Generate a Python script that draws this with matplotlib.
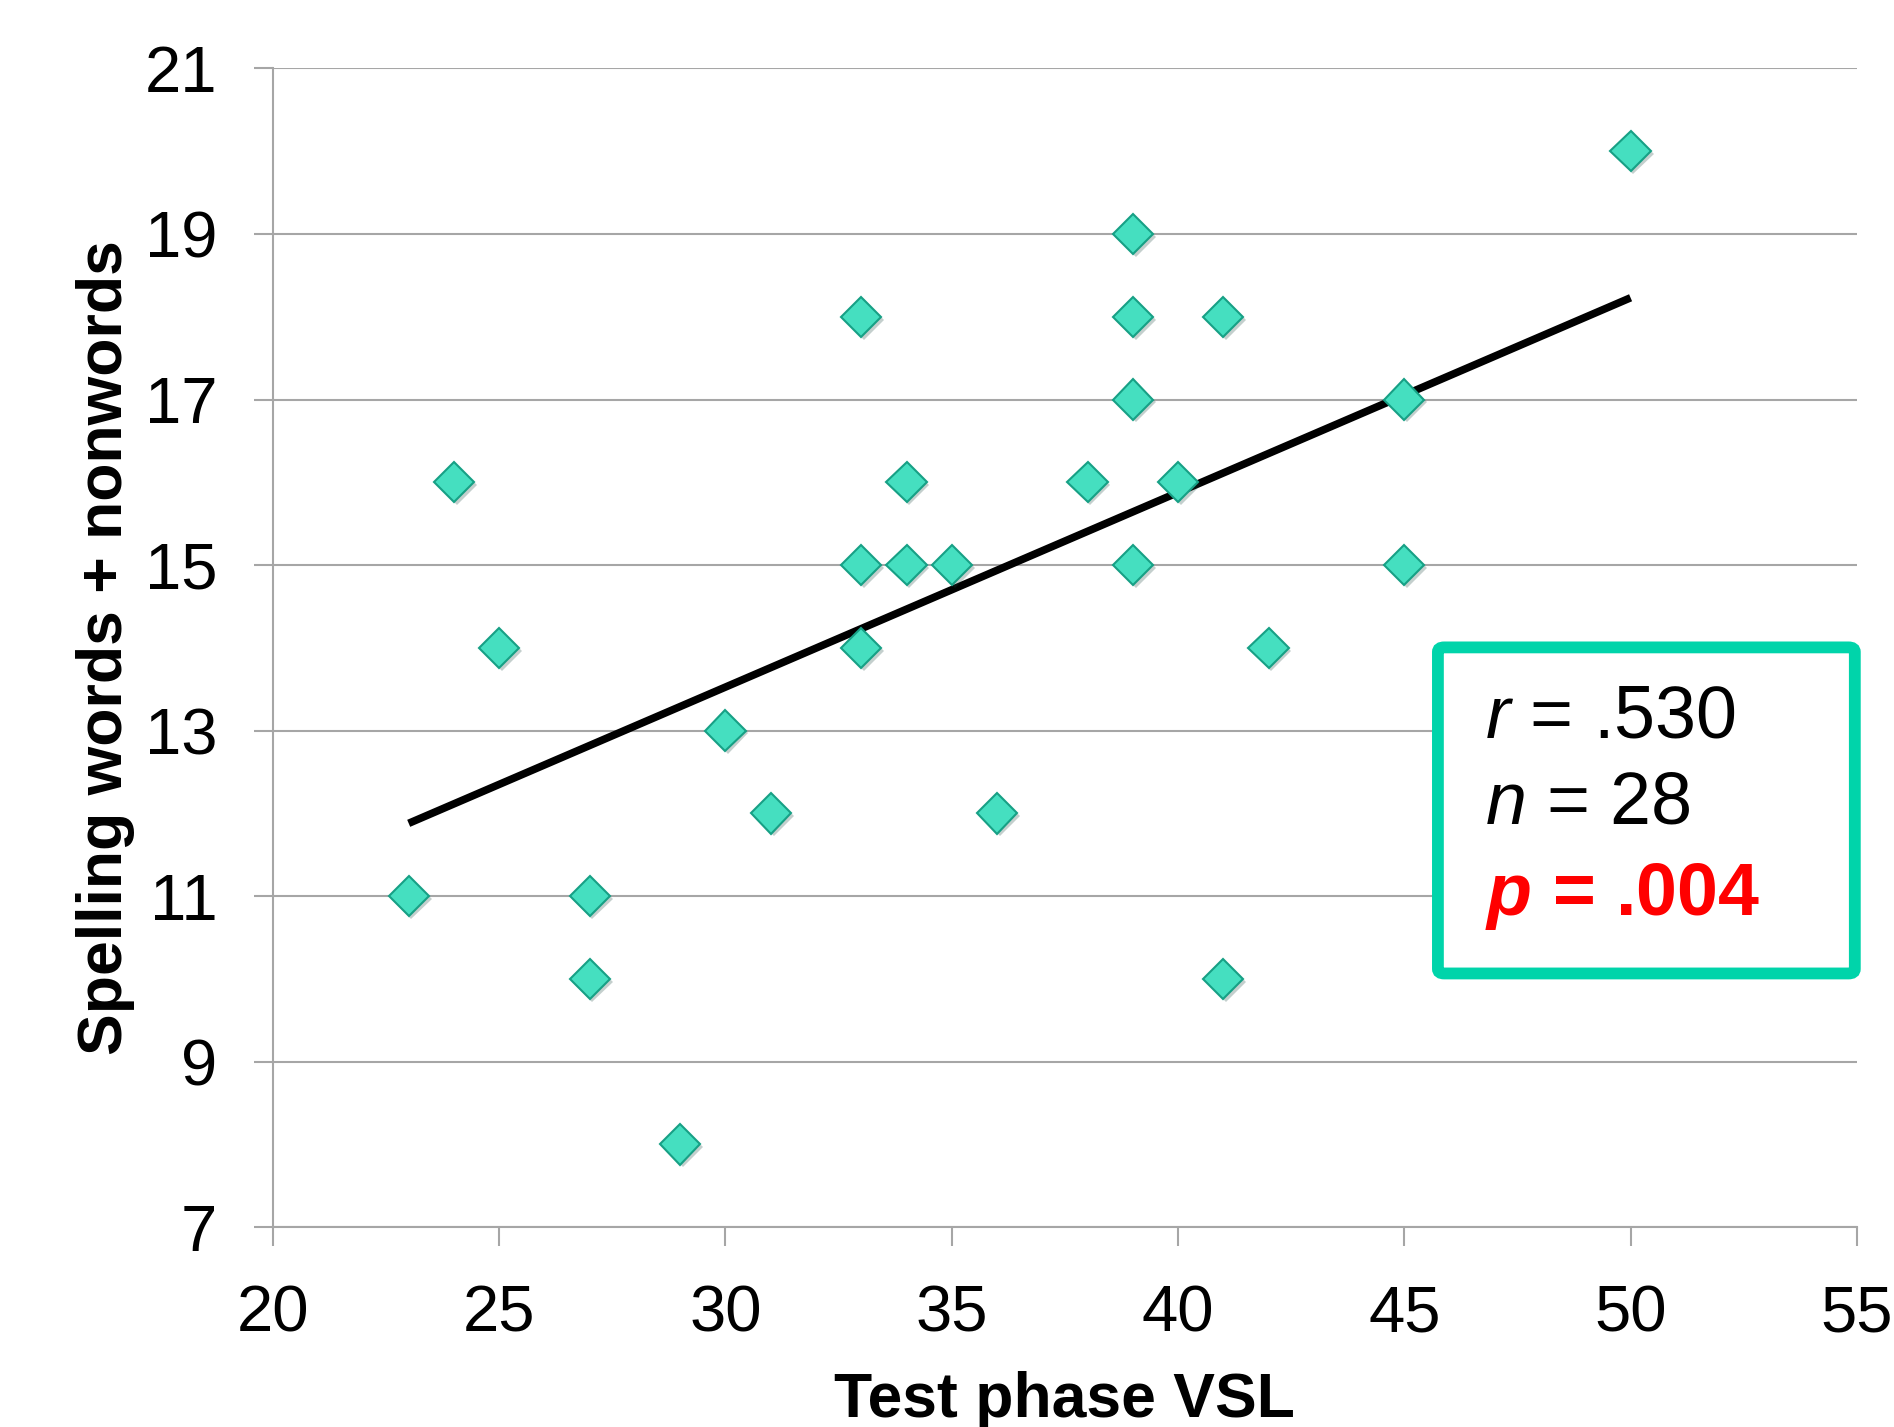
import matplotlib
matplotlib.use('Agg')
import matplotlib.pyplot as plt
import matplotlib.patheffects as pe
from matplotlib.patches import FancyBboxPatch

plt.rcParams['font.family'] = ['Liberation Sans', 'DejaVu Sans']
plt.rcParams['mathtext.fontset'] = 'custom'
plt.rcParams['mathtext.rm'] = 'Liberation Sans'
plt.rcParams['mathtext.it'] = 'Liberation Sans:italic'
plt.rcParams['mathtext.bf'] = 'Liberation Sans:bold'
plt.rcParams['mathtext.bfit'] = 'Liberation Sans:bold:italic'

# data
vsl = [23, 24, 25, 27, 27, 29, 30, 31, 33, 33, 33, 34, 34, 35, 36, 38,
       39, 39, 39, 39, 40, 41, 41, 42, 45, 45, 50]
spelling = [11, 16, 14, 11, 10, 8, 13, 12, 18, 15, 14, 16, 15, 15, 12, 16,
            19, 18, 17, 15, 16, 18, 10, 14, 17, 15, 20]
fit_x = [23, 50]
fit_y = [11.88, 18.23]
x_ticks = [20, 25, 30, 35, 40, 45, 50, 55]
y_ticks = [7, 9, 11, 13, 15, 17, 19, 21]

fig = plt.figure(figsize=(18.94, 14.27), dpi=100)
ax = fig.add_axes([0.1441, 0.140, 0.8363, 0.812])

grid_c = '#a6a6a6'
ax.set_xlim(20, 55)
ax.set_ylim(7, 21)
ax.set_xticks(x_ticks)
ax.set_yticks(y_ticks)
ax.yaxis.grid(True, color=grid_c, lw=1.5)
ax.set_axisbelow(True)
for s in ['top', 'right']:
    ax.spines[s].set_visible(False)
for s in ['left', 'bottom']:
    ax.spines[s].set_color(grid_c)
    ax.spines[s].set_linewidth(1.5)
ax.tick_params(axis='both', direction='out', color=grid_c, width=1.5,
               length=14, labelsize=47)
ax.tick_params(axis='x', pad=27)
ax.tick_params(axis='y', pad=26)

shadow = [pe.SimplePatchShadow(offset=(2, -2), alpha=0.25), pe.Normal()]

ax.plot(fit_x, fit_y, color='black', lw=5.5, solid_capstyle='butt',
        zorder=3, path_effects=shadow)
ax.plot(vsl, spelling, linestyle='none', marker='D', markersize=20.5,
        markerfacecolor='#45dfc0', markeredgecolor='#17a085',
        markeredgewidth=1.5, zorder=4, path_effects=shadow)

ax.set_xlabel('Test phase VSL', fontsize=45, fontweight='bold', labelpad=19)
ax.set_ylabel('Spelling words + nonwords', fontsize=45, fontweight='bold',
              labelpad=7)

box = FancyBboxPatch((0.7355, 0.219), 0.2632, 0.2814,
                     boxstyle='round,pad=0,rounding_size=0.004',
                     transform=ax.transAxes, facecolor='white',
                     edgecolor='#00d4aa', lw=8.5, zorder=5, clip_on=False)
ax.add_patch(box)
ax.text(0.765, 0.4228, r'$\mathit{r}$ = .530', transform=ax.transAxes,
        fontsize=53, va='baseline', ha='left', zorder=6)
ax.text(0.765, 0.3486, r'$\mathit{n}$ = 28', transform=ax.transAxes,
        fontsize=53, va='baseline', ha='left', zorder=6)
ax.text(0.765, 0.2692, r'$\mathbfit{p}$ = .004', transform=ax.transAxes,
        fontsize=53, va='baseline', ha='left', color='#ff0000',
        fontweight='bold', zorder=6)

fig.savefig('out.png', dpi=100)
